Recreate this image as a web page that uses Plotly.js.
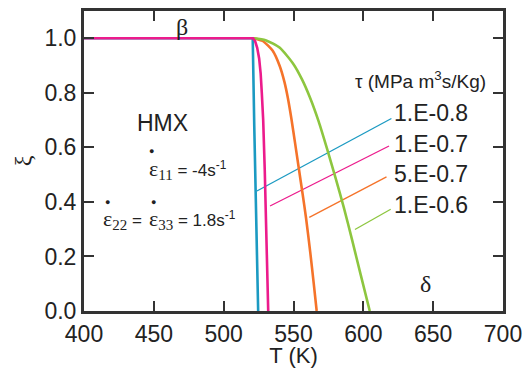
<!DOCTYPE html>
<html><head><meta charset="utf-8">
<script src="https://cdn.plot.ly/plotly-3.0.1.min.js"></script>
<style>html,body{margin:0;padding:0;background:#fff}#chart{width:526px;height:368px}</style>
</head><body><div id="chart"></div>
<script>
// Series: temperature T (K) and phase fraction xi
const blueT = [400, 520.8, 521.9, 523.3, 524.7];
const blueXi = [1, 1, 0.68, 0.35, 0];
const magT = [400, 521, 522.5, 524, 525.4, 526.5, 527.3, 528.3, 529.4, 530.3, 531.1, 531.9];
const magXi = [1, 1, 0.99, 0.965, 0.926, 0.87, 0.80, 0.70, 0.52, 0.34, 0.17, 0];
const oraT = [521.5, 528, 535, 540, 543.5, 546, 548.5, 551, 554, 556.5, 559, 562, 564.5, 566.6];
const oraXi = [1, 0.99, 0.955, 0.9, 0.84, 0.78, 0.705, 0.62, 0.516, 0.43, 0.34, 0.215, 0.1, 0];
const grnT = [521.5, 530, 540, 550, 556, 562, 568, 574, 580, 586, 592, 598, 604.6];
const grnXi = [1, 0.993, 0.966, 0.905, 0.85, 0.78, 0.695, 0.595, 0.49, 0.38, 0.26, 0.135, 0];
// Leader lines from curves to labels
const leadBlueT = [523.8, 620.1], leadBlueXi = [0.44, 0.706];
const leadMagT = [533.2, 618.4], leadMagXi = [0.385, 0.605];
const leadOraT = [561.3, 616.6], leadOraXi = [0.343, 0.492];
const leadGrnT = [594.0, 619.6], leadGrnXi = [0.299, 0.373];
const tauLabels = ['1.E-0.8', '1.E-0.7', '5.E-0.7', '1.E-0.6'];
const tauLabelXi = [0.725, 0.612, 0.502, 0.388];
const xTicks = [400, 450, 500, 550, 600, 650, 700];
const yTicks = [0, 0.2, 0.4, 0.6, 0.8, 1.0];

const cBlue = '#1b9ac2', cMag = '#ec1b8c', cOra = '#f5732a', cGrn = '#8dc63f';
const sans = 'Liberation Sans, Arial, sans-serif';
const serif = 'Liberation Serif, Times New Roman, serif';

function line(x, y, c, w, shape) {
  return {x: x, y: y, type: 'scatter', mode: 'lines',
    line: {color: c, width: w, shape: shape || 'linear', smoothing: 0.6},
    hoverinfo: 'skip', showlegend: false};
}
const data = [
  line(leadBlueT, leadBlueXi, cBlue, 1.3),
  line(leadMagT, leadMagXi, cMag, 1.3),
  line(leadOraT, leadOraXi, cOra, 1.3),
  line(leadGrnT, leadGrnXi, cGrn, 1.3),
  line(blueT, blueXi, cBlue, 2.6),
  line(oraT, oraXi, cOra, 2.6, 'spline'),
  line(grnT, grnXi, cGrn, 2.6, 'spline'),
  line(magT, magXi, cMag, 2.6)
];

const annotations = tauLabels.map((t, i) => ({
  x: 620.5, y: tauLabelXi[i], xref: 'x', yref: 'y', text: t, showarrow: false,
  xanchor: 'left', yanchor: 'middle', font: {family: sans, size: 23, color: '#222'}
}));
const eps = (sub) => '<span style="font-family:Liberation Serif;font-size:22px">\u03b5</span><sub><span style="font-family:Liberation Serif;font-size:15px">' + sub + '</span></sub>';
function txt(x, y, text, font, xanchor) {
  return {x: x, y: y, xref: 'x', yref: 'y', text: text, showarrow: false,
    xanchor: xanchor || 'center', yanchor: 'middle', font: font};
}
const f17 = {family: sans, size: 17, color: '#222'};
const dotF = {family: sans, size: 9, color: '#222'};
annotations.push(
  txt(641, 0.846, '\u03c4 (MPa m<sup>3</sup>s/Kg)', {family: sans, size: 19, color: '#222'}),
  txt(470, 1.04, '\u03b2', {family: serif, size: 24, color: '#222'}),
  txt(644.4, 0.10, '\u03b4', {family: serif, size: 24, color: '#222'}),
  txt(456, 0.69, 'HMX', {family: sans, size: 23, color: '#222'}),
  txt(444.8, 0.52, eps('11') + ' = -4s<sup>-1</sup>', f17, 'left'),
  txt(412.4, 0.337, eps('22') + ' =', f17, 'left'),
  txt(445.4, 0.337, eps('33') + ' = 1.8s<sup>-1</sup>', f17, 'left'),
  txt(448.0, 0.585, '\u25cf', dotF),
  txt(416.8, 0.398, '\u25cf', dotF),
  txt(450.0, 0.398, '\u25cf', dotF)
);

const axisCommon = {
  showgrid: false, zeroline: false, showline: true, linecolor: '#333', linewidth: 3,
  mirror: 'ticks', ticks: 'inside', ticklen: 10, tickwidth: 2, tickcolor: '#333',
  tickfont: {family: sans, size: 23, color: '#222'}
};
const layout = {
  width: 526, height: 368,
  margin: {l: 84, r: 23, t: 11, b: 57},
  paper_bgcolor: '#fff', plot_bgcolor: '#fff',
  showlegend: false,
  xaxis: Object.assign({}, axisCommon, {
    range: [400, 700], tickvals: xTicks, ticktext: xTicks.map(String),
    title: {text: 'T (K)', font: {family: sans, size: 22, color: '#222'}, standoff: 5}
  }),
  yaxis: Object.assign({}, axisCommon, {
    range: [0, 1.1], tickvals: yTicks, ticktext: yTicks.map(v => v.toFixed(1)),
    title: {text: '\u03be', font: {family: serif, size: 24, color: '#222'}, standoff: 7}
  }),
  annotations: annotations
};
Plotly.newPlot('chart', data, layout, {displayModeBar: false, staticPlot: true});
</script></body></html>
